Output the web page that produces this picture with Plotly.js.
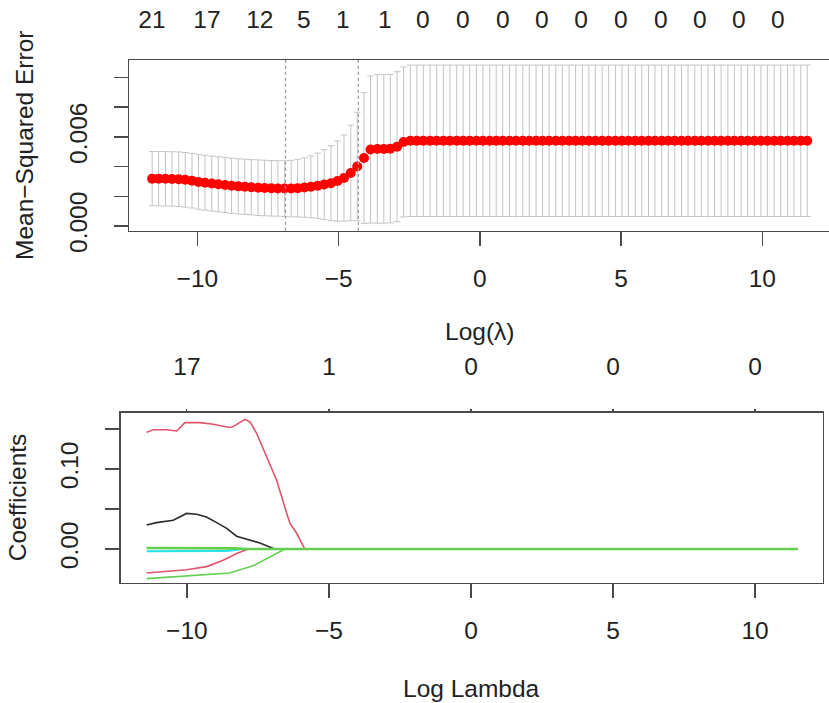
<!DOCTYPE html>
<html>
<head>
<meta charset="utf-8">
<script src="https://cdn.plot.ly/plotly-3.0.1.min.js"></script>
<style>
html,body{margin:0;padding:0;background:#fff;}
#chart{width:829px;height:703px;}
</style>
</head>
<body>
<div id="chart"></div>
<script>
// ---------- Top panel: cross-validated MSE ----------
const logLambda = [
-11.60,-11.37,-11.13,-10.90,-10.66,-10.43,-10.19,-9.96,-9.73,-9.49,
-9.26,-9.02,-8.79,-8.55,-8.32,-8.09,-7.85,-7.62,-7.38,-7.15,
-6.91,-6.68,-6.45,-6.21,-5.98,-5.74,-5.51,-5.27,-5.04,-4.81,
-4.57,-4.34,-4.10,-3.87,-3.63,-3.40,-3.17,-2.93,-2.70,-2.46,
-2.23,-2.00,-1.76,-1.53,-1.29,-1.06,-0.82,-0.59,-0.36,-0.12,
0.11,0.35,0.58,0.81,1.05,1.28,1.52,1.75,1.99,2.22,
2.45,2.69,2.92,3.16,3.39,3.63,3.86,4.09,4.33,4.56,
4.80,5.03,5.26,5.50,5.73,5.97,6.20,6.44,6.67,6.90,
7.14,7.37,7.61,7.84,8.08,8.31,8.54,8.78,9.01,9.25,
9.48,9.72,9.95,10.18,10.42,10.65,10.89,11.12,11.36,11.59];

const cvMean = [
0.00319,0.00319,0.00318,0.00317,0.00315,0.00311,0.00305,0.00297,0.00291,0.00286,
0.00281,0.00276,0.00271,0.00267,0.00264,0.00261,0.00258,0.00256,0.00254,0.00253,
0.00252,0.00252,0.00255,0.00259,0.00264,0.00271,0.00279,0.00288,0.00303,0.00323,
0.00357,0.00401,0.00458,0.00515,0.00519,0.00519,0.00521,0.00534,0.00566,0.00574,
0.00574,0.00574,0.00574,0.00574,0.00574,0.00574,0.00574,0.00574,0.00574,0.00574,
0.00574,0.00574,0.00574,0.00574,0.00574,0.00574,0.00574,0.00574,0.00574,0.00574,
0.00574,0.00574,0.00574,0.00574,0.00574,0.00574,0.00574,0.00574,0.00574,0.00574,
0.00574,0.00574,0.00574,0.00574,0.00574,0.00574,0.00574,0.00574,0.00574,0.00574,
0.00574,0.00574,0.00574,0.00574,0.00574,0.00574,0.00574,0.00574,0.00574,0.00574,
0.00574,0.00574,0.00574,0.00574,0.00574,0.00574,0.00574,0.00574,0.00574,0.00574];

const cvSD = [
0.00183,0.00183,0.00183,0.00183,0.00184,0.00184,0.00184,0.00184,0.00185,0.00185,
0.00185,0.00185,0.00186,0.00186,0.00186,0.00186,0.00187,0.00187,0.00187,0.00187,
0.00188,0.00190,0.00194,0.00200,0.00208,0.00220,0.00235,0.00252,0.00270,0.00290,
0.00322,0.00365,0.00440,0.00495,0.00500,0.00500,0.00500,0.00505,0.00505,0.00510,
0.00510,0.00510,0.00510,0.00510,0.00510,0.00510,0.00510,0.00510,0.00510,0.00510,
0.00510,0.00510,0.00510,0.00510,0.00510,0.00510,0.00510,0.00510,0.00510,0.00510,
0.00510,0.00510,0.00510,0.00510,0.00510,0.00510,0.00510,0.00510,0.00510,0.00510,
0.00510,0.00510,0.00510,0.00510,0.00510,0.00510,0.00510,0.00510,0.00510,0.00510,
0.00510,0.00510,0.00510,0.00510,0.00510,0.00510,0.00510,0.00510,0.00510,0.00510,
0.00510,0.00510,0.00510,0.00510,0.00510,0.00510,0.00510,0.00510,0.00510,0.00510];

const lambdaMinLog = -6.88;
const lambda1seLog = -4.30;

const topCountPos = [-11.61,-9.66,-7.79,-6.23,-4.85,-3.36,-2.02,-0.60,0.81,2.19,3.58,4.99,6.41,7.79,9.17,10.55];
const topCountLabels = ["21","17","12","5","1","1","0","0","0","0","0","0","0","0","0","0"];

const mseTickVals = [0,0.002,0.004,0.006,0.008,0.010];
const mseTickText = ["0.000","","","0.006","",""];
const xTickVals = [-10,-5,0,5,10];

// ---------- Bottom panel: coefficient paths ----------
const coefTickVals = [0,0.05,0.10,0.15];
const coefTickText = ["0.00","","0.10",""];
const dfTickVals = [-10,-5,0,5,10];
const dfTickLabels = ["17","1","0","0","0"];

const blackX = [-11.42,-11.07,-10.48,-10.01,-9.66,-9.31,-8.95,-8.60,-8.25,-7.90,-7.43,-7.02,-6.90,11.5];
const blackY = [0.030,0.033,0.036,0.0445,0.0435,0.040,0.033,0.0258,0.016,0.0125,0.0075,0.0015,0,0];

const cyanX = [-11.42,-9.5,-8.6,-8.0,11.5];
const cyanY = [-0.0028,-0.0030,-0.0022,0,0];

const pinkNegX = [-11.42,-10.01,-9.31,-8.72,-8.25,-7.84,11.5];
const pinkNegY = [-0.030,-0.026,-0.022,-0.014,-0.0055,0,0];

const pinkTopX = [-11.42,-11.19,-10.71,-10.36,-10.07,-9.54,-9.07,-8.49,-8.37,-7.96,-7.78,-7.55,-7.19,-6.84,-6.49,-6.37,-6.14,-5.85,11.5];
const pinkTopY = [0.1458,0.149,0.149,0.1475,0.158,0.158,0.156,0.152,0.153,0.162,0.159,0.145,0.115,0.086,0.045,0.032,0.020,0,0];

const greenSmallX = [-11.42,-9.5,-8.3,-7.9,11.5];
const greenSmallY = [0.0012,0.0012,0.0008,0,0];

const greenNegX = [-11.42,-10.01,-8.49,-7.67,-7.08,-6.55,11.5];
const greenNegY = [-0.037,-0.034,-0.030,-0.021,-0.0104,0,0];

// ---------- styling ----------
const FONT = "Liberation Sans, Arial, Helvetica, sans-serif";
const TXT = "#222";
const AX = "#4a4a4a";
const FS = 24.5;
const tickFont = {family: FONT, size: FS, color: TXT};

function coefTrace(x, y, color, w) {
  return {x: x, y: y, xaxis: 'x2', yaxis: 'y2', type: 'scatter', mode: 'lines',
          line: {color: color, width: w || 1.6}, hoverinfo: 'skip', showlegend: false};
}

const traces = [
  {
    x: logLambda, y: cvMean, xaxis: 'x', yaxis: 'y', type: 'scatter', mode: 'markers',
    marker: {color: '#ff0000', size: 10},
    error_y: {type: 'data', array: cvSD, visible: true, color: '#C4C4C4', thickness: 1, width: 3.3},
    showlegend: false, hoverinfo: 'skip'
  },
  // invisible trace to host the top count axis
  {x: [logLambda[0]], y: [cvMean[0]], xaxis: 'x3', yaxis: 'y', type: 'scatter', mode: 'markers',
   marker: {opacity: 0}, showlegend: false, hoverinfo: 'skip'},
  coefTrace(blackX, blackY, '#2b2b2b'),
  coefTrace(cyanX, cyanY, '#28E2E5', 2.2),
  coefTrace(pinkNegX, pinkNegY, '#DF536B'),
  coefTrace(pinkTopX, pinkTopY, '#DF536B'),
  coefTrace(greenSmallX, greenSmallY, '#61D04F', 2.6),
  coefTrace(greenNegX, greenNegY, '#61D04F'),
  {x: [dfTickVals[0]], y: [0], xaxis: 'x4', yaxis: 'y2', type: 'scatter', mode: 'markers',
   marker: {opacity: 0}, showlegend: false, hoverinfo: 'skip'}
];

const W = 829, H = 703;
const topXRange = [-12.42, 12.36];
const botXRange = [-12.33, 12.38];

const layout = {
  width: W, height: H,
  margin: {l: 0, r: 0, t: 0, b: 0},
  paper_bgcolor: '#fff', plot_bgcolor: '#fff',
  showlegend: false,
  font: {family: FONT, color: TXT},
  xaxis: {
    domain: [129 / W, 1], anchor: 'y', range: topXRange,
    tickmode: 'array', tickvals: xTickVals,
    ticks: 'outside', ticklen: 14, tickwidth: 1.5, tickcolor: AX,
    showline: true, linecolor: AX, linewidth: 1.5, mirror: true,
    showgrid: false, zeroline: false, tickfont: tickFont, ticklabelstandoff: 11
  },
  yaxis: {
    domain: [1 - 230.7 / H, 1 - 60 / H], anchor: 'x', range: [-0.000317, 0.01118],
    tickmode: 'array', tickvals: mseTickVals, ticktext: mseTickText, tickangle: -90,
    ticks: 'outside', ticklen: 14, tickwidth: 1.5, tickcolor: AX,
    showline: true, linecolor: AX, linewidth: 1.5, mirror: false,
    showgrid: false, zeroline: false, tickfont: tickFont, ticklabelstandoff: 17
  },
  xaxis3: {
    overlaying: 'x', side: 'top', anchor: 'y', range: topXRange,
    tickmode: 'array', tickvals: topCountPos, ticktext: topCountLabels,
    ticks: '', showline: false, showgrid: false, zeroline: false,
    tickfont: tickFont, ticklabelstandoff: 26
  },
  xaxis2: {
    domain: [120.7 / W, 822.7 / W], anchor: 'y2', range: botXRange,
    tickmode: 'array', tickvals: xTickVals,
    ticks: 'outside', ticklen: 14, tickwidth: 1.5, tickcolor: AX,
    showline: true, linecolor: AX, linewidth: 1.5, mirror: true,
    showgrid: false, zeroline: false, tickfont: tickFont, ticklabelstandoff: 11
  },
  yaxis2: {
    domain: [1 - 582.7 / H, 1 - 412.7 / H], anchor: 'x2', range: [-0.0421, 0.1704],
    tickmode: 'array', tickvals: coefTickVals, ticktext: coefTickText, tickangle: -90,
    ticks: 'outside', ticklen: 14, tickwidth: 1.5, tickcolor: AX,
    showline: true, linecolor: AX, linewidth: 1.5, mirror: true,
    showgrid: false, zeroline: false, tickfont: tickFont, ticklabelstandoff: 17
  },
  xaxis4: {
    overlaying: 'x2', side: 'top', anchor: 'y2', range: botXRange,
    tickmode: 'array', tickvals: dfTickVals, ticktext: dfTickLabels,
    ticks: 'outside', ticklen: 3, tickwidth: 1.2, tickcolor: AX,
    showline: false, showgrid: false, zeroline: false,
    tickfont: tickFont, ticklabelstandoff: 24
  },
  shapes: [
    {type: 'line', xref: 'x', yref: 'y domain', x0: lambdaMinLog, x1: lambdaMinLog, y0: 0, y1: 1,
     line: {color: '#999999', width: 1.3, dash: 'dot'}},
    {type: 'line', xref: 'x', yref: 'y domain', x0: lambda1seLog, x1: lambda1seLog, y0: 0, y1: 1,
     line: {color: '#999999', width: 1.3, dash: 'dot'}}
  ],
  annotations: [
    {text: 'Mean\u2212Squared Error', xref: 'paper', yref: 'paper', x: 25 / W, y: 1 - 146 / H,
     textangle: -90, showarrow: false, xanchor: 'center', yanchor: 'middle',
     font: {family: FONT, size: FS, color: TXT}},
    {text: 'Log(\u03BB)', xref: 'paper', yref: 'paper', x: 479 / W, y: 1 - 331 / H,
     showarrow: false, xanchor: 'center', yanchor: 'middle',
     font: {family: FONT, size: FS, color: TXT}},
    {text: 'Coefficients', xref: 'paper', yref: 'paper', x: 17.5 / W, y: 1 - 497.7 / H,
     textangle: -90, showarrow: false, xanchor: 'center', yanchor: 'middle',
     font: {family: FONT, size: FS, color: TXT}},
    {text: 'Log Lambda', xref: 'paper', yref: 'paper', x: 471.7 / W, y: 1 - 688 / H,
     showarrow: false, xanchor: 'center', yanchor: 'middle',
     font: {family: FONT, size: FS, color: TXT}}
  ]
};

Plotly.newPlot('chart', traces, layout, {staticPlot: true, displayModeBar: false});
</script>
</body>
</html>
